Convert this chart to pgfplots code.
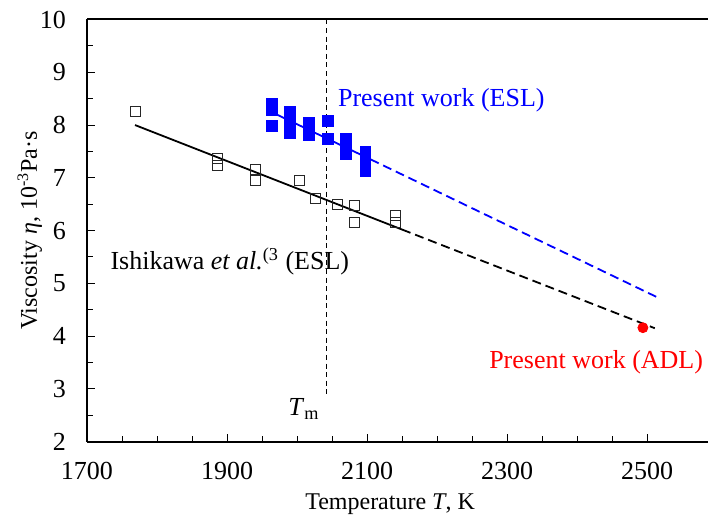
\documentclass[border=0pt]{standalone}
\usepackage{fontspec}
\setmainfont{Liberation Serif}
\usepackage{pgfplots}
\pgfplotsset{compat=1.18}
\begin{document}
\begin{tikzpicture}
\begin{axis}[
  scale only axis,
  width=310.5pt, height=211.1pt,
  xmin=1700, xmax=2587, ymin=2, ymax=10,
  axis lines=left,
  axis line style={-, line width=1pt},
  xtick={1700,1900,2100,2300,2500},
  ytick={2,3,...,10},
  minor x tick num=3,
  minor y tick num=1,
  tick align=inside,
  major tick length=4pt,
  minor tick length=2.8pt,
  tick style={black, line width=0.5pt},
  /pgf/number format/assume math mode=true,
  /pgf/number format/1000 sep={},
  ticklabel style={font=\fontsize{13}{15}\selectfont},
  yticklabel style={xshift=-7pt},
  xticklabel style={yshift=-6.5pt},
  label style={font=\fontsize{12}{14}\selectfont},
  xlabel={Temperature \textit{T}, K},
  ylabel={Viscosity \textit{η}, 10\textsuperscript{-3}Pa·s},
  xlabel style={at={(axis description cs:0.488,-0.148)}, anchor=center},
  ylabel style={at={(axis description cs:-0.092,0.5)}, anchor=center},
  clip=false,
]
\coordinate (bl) at (rel axis cs:0,0);
\coordinate (tr) at (rel axis cs:1,1);
\draw[line width=1pt] (rel axis cs:0,1) -- (rel axis cs:1,1);
% Tm line
\addplot[black, line width=0.7pt, dash pattern=on 2.5pt off 1.8pt] coordinates {(2042,10) (2042,2.88)};
% Ishikawa fit
\addplot[black, line width=0.9pt] coordinates {(1768.6,8.00) (2150,6.02)};
\addplot[black, line width=0.9pt, dash pattern=on 4.5pt off 2.5pt] coordinates {(2150,6.02) (2511,4.15)};
% present ESL fit
\addplot[blue, line width=0.9pt] coordinates {(1963,8.25) (2105,7.35)};
\addplot[blue, line width=0.9pt, dash pattern=on 4.5pt off 2.5pt] coordinates {(2105,7.35) (2514,4.74)};
% Ishikawa data
\addplot[only marks, mark=square, mark size=2.5pt, mark options={draw=black!85, line width=0.5pt}] coordinates {
(1768.6,8.25) (1886,7.37) (1886,7.23) (1941,7.16) (1941,6.94) (2003,6.94)
(2026.7,6.61) (2057.6,6.50) (2082,6.48) (2082,6.16) (2140,6.28) (2140,6.15)};
% present ESL data
\addplot[only marks, mark=square*, mark size=2.6pt, blue, mark options={draw=blue, fill=blue}] coordinates {
(1964,8.41) (1964,8.29) (1964,7.985)
(1990,8.25) (1990,8.03) (1990,7.85)
(2017,8.04) (2017,7.92) (2017,7.80)
(2044,8.08) (2044,7.74)
(2070,7.745) (2070,7.60) (2070,7.455)
(2098,7.49) (2098,7.31) (2098,7.13)};
% ADL
\addplot[only marks, mark=*, mark size=2.5pt, red, mark options={draw=red, fill=red}] coordinates {(2494,4.16)};
\node[anchor=west, inner sep=0, blue, font=\fontsize{13}{15}\selectfont] at (axis cs:2058,8.47) {Present work (ESL)};
\node[anchor=west, inner sep=0, font=\fontsize{13}{15}\selectfont] at (axis cs:1733,5.42) {Ishikawa \textit{et al.}\textsuperscript{(3} (ESL)};
\node[anchor=west, inner sep=0, red, font=\fontsize{13}{15}\selectfont] at (axis cs:2274,3.51) {Present work (ADL)};
\node[inner sep=0, font=\fontsize{13}{15}\selectfont] at (axis cs:2010,2.62) {\textit{T}\textsubscript{m}};
\end{axis}
\pgfresetboundingbox
\path[use as bounding box] ([shift={(-43.5pt,-40.15pt)}]bl) rectangle ([shift={(0pt,9.75pt)}]tr);
\end{tikzpicture}
\end{document}
